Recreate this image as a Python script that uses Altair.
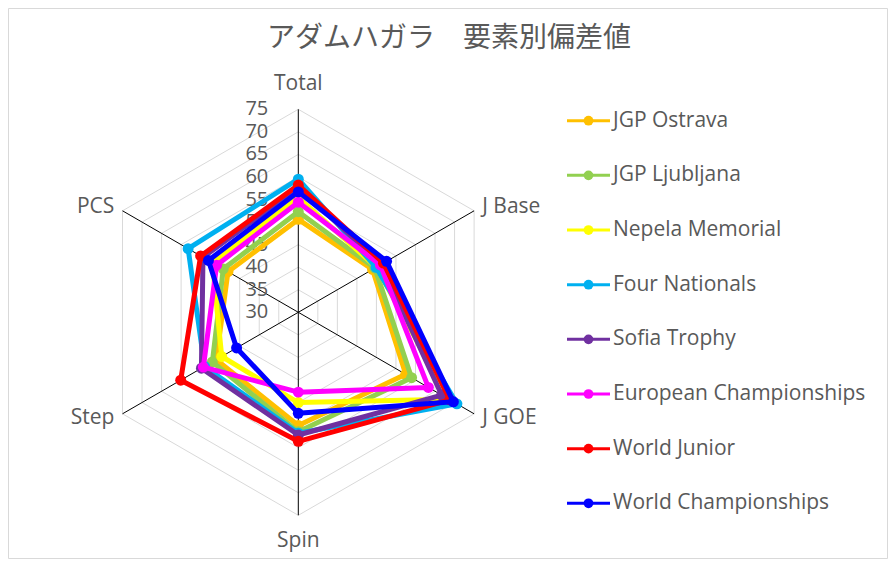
import altair as alt
import pandas as pd

# ---------------- data ----------------
categories = ["Total", "J Base", "J GOE", "Spin", "Step", "PCS"]
series = ["JGP Ostrava", "JGP Ljubljana", "Nepela Memorial", "Four Nationals",
          "Sofia Trophy", "European Championships", "World Junior", "World Championships"]
colors = ["#FFC000", "#92D050", "#FFFF00", "#00B0F0", "#7030A0", "#FF00FF", "#FF0000", "#0000FF"]

ostrava = [50.6, 49.0, 57.5, 55.1, 51.0, 48.0]
ljubljana = [52.3, 49.6, 59.0, 56.5, 52.0, 49.2]
nepela = [55.4, 50.0, 68.6, 50.0, 49.6, 52.0]
four_nationals = [59.5, 49.9, 70.6, 56.8, 54.0, 58.2]
sofia = [57.7, 51.3, 66.7, 57.2, 54.8, 54.4]
european = [54.4, 51.0, 63.3, 47.7, 54.3, 50.9]
world_junior = [58.2, 51.8, 68.8, 58.6, 60.1, 55.0]
world_champ = [56.7, 52.6, 69.7, 52.4, 45.8, 53.0]

tick_values = [30, 35, 40, 45, 50, 55, 60, 65, 70, 75]
title_text = "アダムハガラ　要素別偏差値"

all_values = [ostrava, ljubljana, nepela, four_nationals, sofia, european, world_junior, world_champ]
AMIN, AMAX = tick_values[0], tick_values[-1]
N = len(categories)

# ---------------- layout ----------------
W, H = 879, 550
PX = 4.511           # pixels per data unit
CX, CY = 290.3, 304.3  # centre inside the plot area
x_dom = [-CX / PX, (W - CX) / PX]
y_dom = [-(H - CY) / PX, CY / PX]
xs = alt.Scale(domain=x_dom, nice=False, zero=False)
ys = alt.Scale(domain=y_dom, nice=False, zero=False)
GRAY = "#595959"
FONT = "Open Sans"

ANG = f"PI/2 - datum.k*2*PI/{N}"
def polar(ch):
    return ch.transform_calculate(
        a=ANG
    ).transform_calculate(
        px=f"(datum.value - {AMIN}) * cos(datum.a)",
        py=f"(datum.value - {AMIN}) * sin(datum.a)",
    )

def X(f):
    return alt.X(f, type="quantitative", scale=xs, axis=None)

def Y(f):
    return alt.Y(f, type="quantitative", scale=ys, axis=None)

# series data (closed polygons)
rows = []
for s, vals in zip(series, all_values):
    for k in range(N + 1):
        rows.append({"series": s, "k": k, "value": vals[k % N]})
df = pd.DataFrame(rows)

# grid polygons
grid_rows = []
for t in tick_values[1:]:
    for k in range(N + 1):
        grid_rows.append({"tick": t, "k": k, "value": t})
grid_df = pd.DataFrame(grid_rows)

spoke_df = pd.DataFrame({"k": list(range(N)), "value": [AMAX] * N, "cat": categories})
tick_df = pd.DataFrame({"value": tick_values, "label": [str(t) for t in tick_values]})

layers = []

grid = polar(alt.Chart(grid_df)).mark_line(color="#D9D9D9", strokeWidth=1).encode(
    x=X("px"), y=Y("py"), detail="tick:N", order="k:Q")
layers.append(grid)

spokes = polar(alt.Chart(spoke_df)).transform_calculate(zero="0").mark_rule(
    color="#000000", strokeWidth=1).encode(
    x=X("zero"), y=Y("zero"), x2="px:Q", y2="py:Q")
layers.append(spokes)

# category labels
lab = polar(alt.Chart(spoke_df)).transform_calculate(
    c="cos(datum.a)", s="sin(datum.a)"
).transform_calculate(
    lx="datum.px + (abs(datum.c) > 0.1 ? 1.8 * (datum.c > 0 ? 1 : -1) : 0)",
    ly="datum.py + (abs(datum.c) > 0.1 ? 0.9 : 5.6) * (datum.s > 0 ? 1 : -1)",
)
for cond, al in [("abs(datum.c) <= 0.1", "center"), ("datum.c > 0.1", "left"), ("datum.c < -0.1", "right")]:
    layers.append(lab.transform_filter(cond).mark_text(
        align=al, baseline="middle", font=FONT, fontSize=21, color=GRAY).encode(
        x=X("lx"), y=Y("ly"), text="cat:N"))

# radial tick labels
ticks = alt.Chart(tick_df).transform_calculate(
    zero="0", ty=f"datum.value - {AMIN}").mark_text(
    align="right", baseline="middle", dx=-30, font=FONT, fontSize=20, color=GRAY).encode(
    x=X("zero"), y=Y("ty"), text="label:N")
layers.append(ticks)

# series
base = polar(alt.Chart(df))
for s, c in zip(series, colors):
    sd = base.transform_filter(alt.datum.series == s)
    layers.append(sd.mark_line(color=c, strokeWidth=5, strokeJoin="round").encode(
        x=X("px"), y=Y("py"), order="k:Q"))
    layers.append(sd.transform_filter(f"datum.k < {N}").mark_circle(
        color=c, size=120, opacity=1).encode(x=X("px"), y=Y("py")))

# legend
leg_df = pd.DataFrame({"series": series, "idx": list(range(len(series))), "col": colors})
LEG_TOP = (CY - (120.7 - 8)) / PX
LEG_STEP = 54.66 / PX
leg = alt.Chart(leg_df).transform_calculate(
    ly=f"{LEG_TOP} - datum.idx * {LEG_STEP}",
    x1=f"{(567 - 8 - CX) / PX}",
    x2=f"{(610 - 8 - CX) / PX}",
    xm=f"{(588.5 - 8 - CX) / PX}",
    xt=f"{(613 - 8 - CX) / PX}",
)
cscale = alt.Scale(domain=series, range=colors)
layers.append(leg.mark_rule(strokeWidth=3).encode(
    x=X("x1"), x2="x2:Q", y=Y("ly"),
    color=alt.Color("series:N", scale=cscale, legend=None)))
layers.append(leg.mark_circle(size=95, opacity=1).encode(
    x=X("xm"), y=Y("ly"),
    color=alt.Color("series:N", scale=cscale, legend=None)))
layers.append(leg.mark_text(align="left", baseline="middle", font=FONT, fontSize=21, color=GRAY).encode(
    x=X("xt"), y=Y("ly"), text="series:N"))

# title
title_df = pd.DataFrame({"t": [title_text]})
layers.append(alt.Chart(title_df).mark_text(
    align="center", baseline="middle", font="Noto Sans CJK JP", fontSize=28, color=GRAY).encode(
    x=alt.value(441), y=alt.value(31), text="t:N"))

chart = alt.layer(*layers).properties(
    width=W, height=H,
    padding={"left": 0, "top": 0, "right": 1, "bottom": 1},
    autosize=alt.AutoSizeParams(type="none"),
    background="white",
).configure_view(stroke="#D9D9D9", strokeWidth=1)

chart.save("out.html", embed_options={"renderer": "svg", "actions": False})
